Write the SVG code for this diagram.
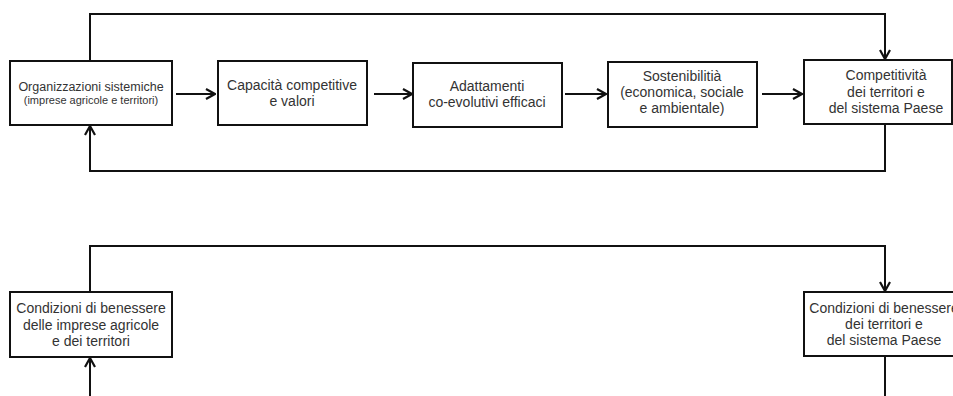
<svg xmlns="http://www.w3.org/2000/svg" width="953" height="396" viewBox="0 0 953 396">
<style>
.box{fill:#fff;stroke:#111;stroke-width:2}
.ln{fill:none;stroke:#111;stroke-width:2}
text{font-family:"Liberation Sans",Arial,sans-serif;font-size:14px;fill:#333;text-anchor:middle}
.sm{font-size:12.5px}
.xs{font-size:11px}
</style>
<defs>
<marker id="ah" viewBox="0 0 12 12" refX="11" refY="6" markerWidth="12" markerHeight="12" markerUnits="userSpaceOnUse" orient="auto">
<path d="M2,1 L11,6 L2,11" fill="none" stroke="#111" stroke-width="2.2"/>
</marker>
</defs>
<rect width="953" height="396" fill="#fff"/>
<g id="connectors">
<path class="ln" d="M90,61 V14 H885 V59" marker-end="url(#ah)"/>
<path class="ln" d="M885,124 V171 H90 V126" marker-end="url(#ah)"/>
<path class="ln" d="M176,94 H215" marker-end="url(#ah)"/>
<path class="ln" d="M374,94 H412" marker-end="url(#ah)"/>
<path class="ln" d="M565,94 H606" marker-end="url(#ah)"/>
<path class="ln" d="M762,94 H802" marker-end="url(#ah)"/>
<path class="ln" d="M90,292 V246 H885 V291" marker-end="url(#ah)"/>
<path class="ln" d="M885,356 V396"/>
<path class="ln" d="M90,396 V358" marker-end="url(#ah)"/>
</g>
<g id="n1">
<rect class="box" x="10" y="61" width="162" height="64"/>
<text class="sm" x="91" y="91">Organizzazioni sistemiche</text>
<text class="xs" x="91" y="104">(imprese agricole e territori)</text>
</g>
<g id="n2">
<rect class="box" x="218" y="61" width="149" height="64"/>
<text x="292" y="90">Capacità competitive</text>
<text x="292" y="106">e valori</text>
</g>
<g id="n3">
<rect class="box" x="413" y="63" width="149" height="64"/>
<text x="487" y="91">Adattamenti</text>
<text x="487" y="107">co-evolutivi efficaci</text>
</g>
<g id="n4">
<rect class="box" x="608" y="62" width="149" height="65"/>
<text x="682" y="81">Sostenibilitià</text>
<text x="682" y="97">(economica, sociale</text>
<text x="682" y="113">e ambientale)</text>
</g>
<g id="n5">
<rect class="box" x="804" y="60" width="148" height="64"/>
<text x="886" y="80">Competitività</text>
<text x="886" y="97">dei territori e</text>
<text x="886" y="113">del sistema Paese</text>
</g>
<g id="n6">
<rect class="box" x="10" y="292" width="162" height="65"/>
<text x="91" y="313">Condizioni di benessere</text>
<text x="91" y="330">delle imprese agricole</text>
<text x="91" y="346">e dei territori</text>
</g>
<g id="n7">
<rect class="box" x="804" y="292" width="170" height="64"/>
<text x="884" y="313">Condizioni di benessere</text>
<text x="884" y="329">dei territori e</text>
<text x="884" y="345">del sistema Paese</text>
</g>
</svg>
